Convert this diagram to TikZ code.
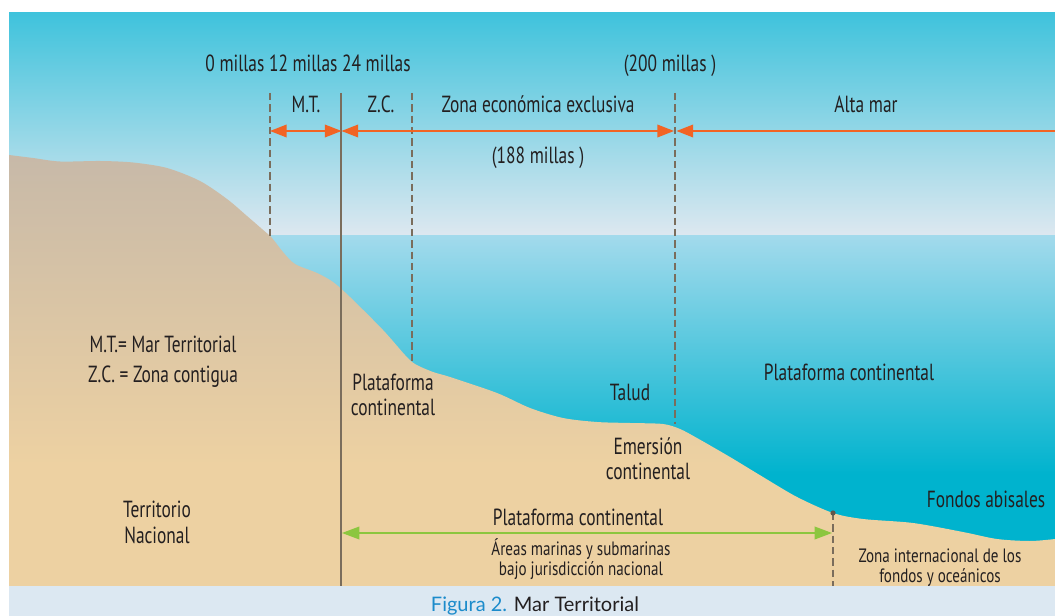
\documentclass[tikz,border=0pt]{standalone}
\usepackage{fontspec}
\setmainfont{PT Sans}[FakeStretch=0.745]
\newfontfamily\smallfont{PT Sans}[FakeStretch=0.78]
\newfontfamily\capfont{Lato}
\usetikzlibrary{arrows.meta}

\definecolor{skytop}{HTML}{3FC3DC}
\definecolor{skybot}{HTML}{DEE8F0}
\definecolor{seatop}{HTML}{A2DAEC}
\definecolor{seabot}{HTML}{00B3CE}
\definecolor{landtop}{HTML}{C7B9A8}
\definecolor{landbot}{HTML}{EDD1A2}
\definecolor{strip}{HTML}{DCE8F2}
\definecolor{guide}{HTML}{7A6D5C}
\definecolor{orangearrow}{HTML}{F26424}
\definecolor{greenarrow}{HTML}{8CC63F}
\definecolor{ink}{HTML}{231F20}
\definecolor{capblue}{HTML}{1B8BCB}

% vertical shadings: the 25bp..75bp band spans the filled path
\pgfdeclareverticalshading{skyshade}{100bp}{color(0bp)=(skybot); color(25bp)=(skybot); color(75bp)=(skytop); color(100bp)=(skytop)}
\pgfdeclareverticalshading{seashade}{100bp}{color(0bp)=(seabot); color(25bp)=(seabot); color(41bp)=(seabot); color(75bp)=(seatop); color(100bp)=(seatop)}
\pgfdeclareverticalshading{landshade}{100bp}{color(0bp)=(landbot); color(25bp)=(landbot); color(39bp)=(landbot); color(75bp)=(landtop); color(100bp)=(landtop)}

\tikzset{
  orangehead/.tip={Triangle[length=12.5pt, width=9.5pt, fill=orangearrow]},
  greenhead/.tip={Triangle[length=13pt, width=9.5pt, fill=greenarrow]},
  % multi-line labels sit on the baseline of their last line
  lbl/.style={text=ink, font=\fontsize{17.5}{18.5}\selectfont, align=center, inner sep=0pt, anchor=base},
  smalllbl/.style={lbl, font=\smallfont\fontsize{14.5}{15}\selectfont},
  guideline/.style={draw=guide, line width=1pt, dash pattern=on 5.5pt off 3pt},
  boundary/.style={draw=guide, line width=1.1pt},
  zonearrow/.style={draw=orangearrow, line width=1.1pt},
  shelfarrow/.style={draw=greenarrow, line width=1.1pt},
}

\begin{document}
\begin{tikzpicture}[x=0.75pt, y=-0.75pt]
\useasboundingbox (0,0) rectangle (1055,616);
\fill[white] (0,0) rectangle (1055,616);

% sky, sea and land
\shade[shading=skyshade] (9,13) rectangle (1055,236.5);
\shade[shading=seashade] (9,236) rectangle (1055,586);
\shade[shading=landshade] plot[smooth, tension=0.5] coordinates {
  (9,155) (33,158) (60,161.5) (100,161) (133,162.5) (167,168) (200,181)
  (227,199) (247,216) (262,229) (272,238) (283,252) (295,264) (317,273)
  (333,282) (350,297) (383,330) (405,355) (415,364) (433,372) (450,377)
  (497,393) (530,408) (563,418) (597,422) (630,423) (663,424) (680,429)
  (697,438) (730,457) (763,477) (797,497) (833,513) (863,519) (913,523)
  (963,532) (997,539) (1030,541) (1055,539)}
  -- (1055,586) -- (9,586) -- cycle;

% caption band
\fill[strip] (9,585.5) rectangle (1055,616);

% limits of the zones
\coordinate (mtTop) at (270,93);   \coordinate (mtBot) at (270,236);
\coordinate (baseTop) at (341,93); \coordinate (baseBot) at (341,585.5);
\coordinate (zcTop) at (412,93);   \coordinate (zcBot) at (412,362);
\coordinate (zeeTop) at (675,93);  \coordinate (zeeBot) at (675,424);
\coordinate (shelfEnd) at (833,513); \coordinate (shelfBot) at (833,585.5);

\path[guideline] (mtTop) -- (mtBot);
\path[guideline] (zcTop) -- (zcBot);
\path[guideline] (zeeTop) -- (zeeBot);
\path[guideline] (shelfEnd) -- (shelfBot);
\path[boundary] (baseTop) -- (baseBot);
\fill[guide!80!black] (shelfEnd) circle[radius=2.6];

% distance arrows
\coordinate (aMT) at (270,131);   \coordinate (aBase) at (341.5,131);
\coordinate (aZEE) at (674,131);  \coordinate (aHigh) at (676.5,131);
\coordinate (aEdge) at (1055,131);
\path[zonearrow, orangehead-orangehead] (aMT) -- (aBase);
\path[zonearrow, orangehead-orangehead] (aBase) -- (aZEE);
\path[zonearrow, orangehead-] (aHigh) -- (aEdge);

\coordinate (gL) at (342,533); \coordinate (gR) at (832,533);
\path[shelfarrow, greenhead-greenhead] (gL) -- (gR);

% labels
\node[lbl] (miles) at (308,72) {0 millas 12 millas 24 millas};
\node[lbl] (miles200) at (670,72) {(200 millas )};
\node[lbl] (mt) at (306,113) {M.T.};
\node[lbl] (zc) at (381,113) {Z.C.};
\node[lbl] (zee) at (538,113) {Zona económica exclusiva};
\node[lbl] (alta) at (866,113) {Alta mar};
\node[lbl] (miles188) at (538,164) {(188 millas )};

\node[lbl] (leg1) at (163,352) {M.T.= Mar Territorial};
\node[lbl] (leg2) at (163,382) {Z.C. = Zona contigua};
\node[lbl] (platL) at (393,415) {Plataforma\\continental};
\node[lbl] (terr) at (157,543) {Territorio\\[1pt]Nacional};
\node[lbl] (talud) at (630,400) {Talud};
\node[lbl] (emer) at (648,479) {Emersión\\continental};
\node[lbl] (platR) at (849,380) {Plataforma continental};
\node[lbl] (platB) at (578,525) {Plataforma continental};
\node[smalllbl] (areas) at (581,575) {Áreas marinas y submarinas\\bajo jurisdicción nacional};
\node[lbl] (fondos) at (986,507) {Fondos abisales};
\node[smalllbl] (intl) at (940,582) {Zona internacional de los\\fondos y oceánicos};

\node[anchor=base, inner sep=0pt, font=\capfont\fontsize{15}{18}\selectfont] (cap) at (535,611)
  {\textcolor{capblue}{Figura 2.} \textcolor{ink}{Mar Territorial}};
\end{tikzpicture}
\end{document}
